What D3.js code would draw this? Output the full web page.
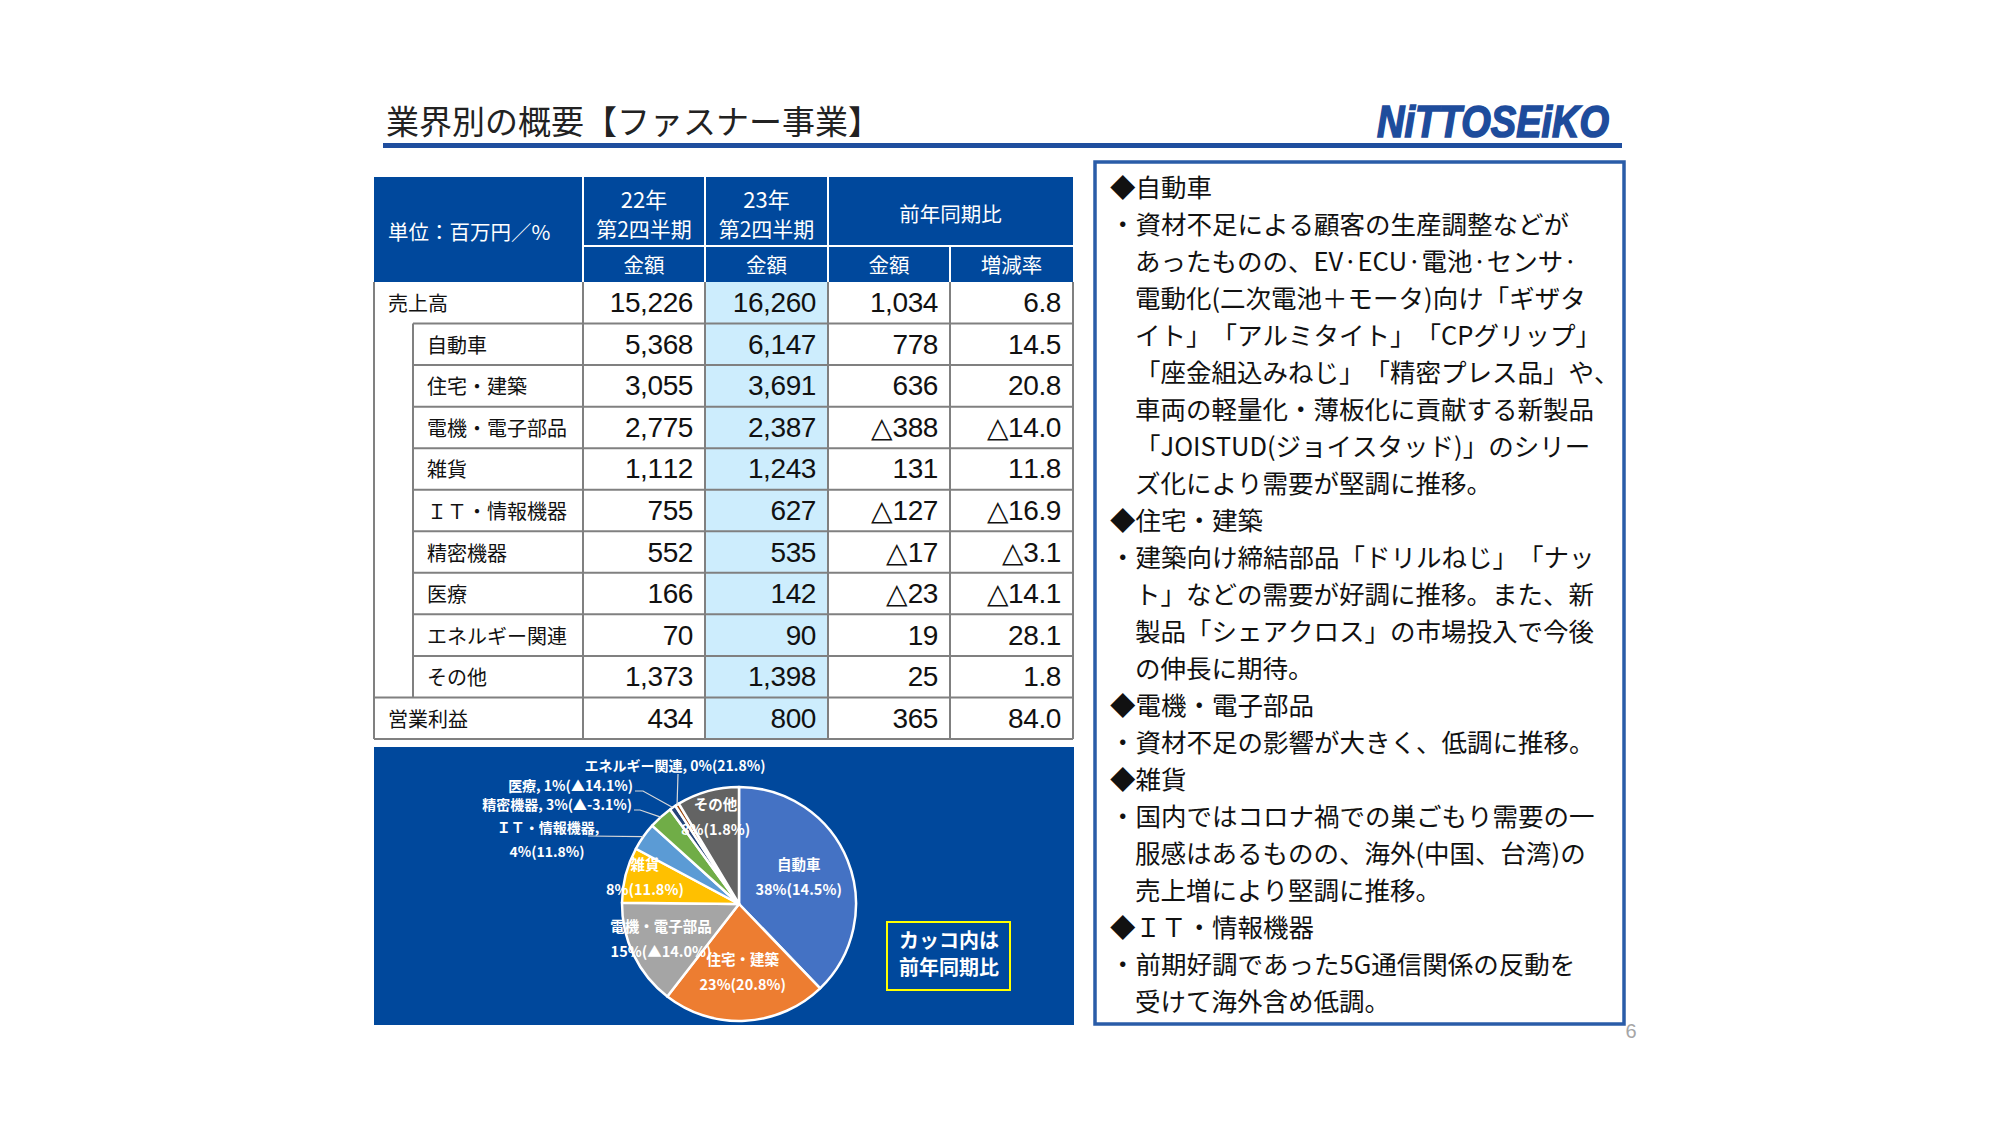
<!DOCTYPE html>
<html><head><meta charset="utf-8">
<script src="https://cdn.jsdelivr.net/npm/d3@7"></script>
<style>body{margin:0;background:#fff}svg{display:block}text{text-spacing-trim:space-all;font-kerning:none}</style>
</head><body>
<script>
// ---------- data ----------
const titleText = "業界別の概要【ファスナー事業】";
const logoText = "NiTTOSEiKO";
const unitLabel = "単位：百万円／%";
const periodLabels = [["22年", "第2四半期"], ["23年", "第2四半期"]];
const compareLabel = "前年同期比";
const subHeaders = ["金額", "金額", "金額", "増減率"];
const categories = ["売上高", "自動車", "住宅・建築", "電機・電子部品", "雑貨", "ＩＴ・情報機器", "精密機器", "医療", "エネルギー関連", "その他", "営業利益"];
const isSubCategory = [false, true, true, true, true, true, true, true, true, true, false];
const sales2022 = [15226, 5368, 3055, 2775, 1112, 755, 552, 166, 70, 1373, 434];
const sales2023 = [16260, 6147, 3691, 2387, 1243, 627, 535, 142, 90, 1398, 800];
const yoyAmount = [1034, 778, 636, -388, 131, -127, -17, -23, 19, 25, 365];
const yoyRate = [6.8, 14.5, 20.8, -14.0, 11.8, -16.9, -3.1, -14.1, 28.1, 1.8, 84.0];

const pieCategories = ["自動車", "住宅・建築", "電機・電子部品", "雑貨", "ＩＴ・情報機器", "精密機器", "医療", "エネルギー関連", "その他"];
const pieValues = [6147, 3691, 2387, 1243, 627, 535, 142, 90, 1398];
const pieShareLabels = ["38%", "23%", "15%", "8%", "4%", "3%", "1%", "0%", "8%"];
const pieYoyLabels = ["14.5%", "20.8%", "▲14.0%", "11.8%", "11.8%", "▲-3.1%", "▲14.1%", "21.8%", "1.8%"];
const pieColors = ["#4472C4", "#ED7D31", "#A5A5A5", "#FFC000", "#5B9BD5", "#70AD47", "#264478", "#9E480E", "#636363"];
const noteLines = ["カッコ内は", "前年同期比"];

const commentLines = [
  "◆自動車",
  "・資材不足による顧客の生産調整などが",
  "あったものの、EV·ECU·電池·センサ·",
  "電動化(二次電池＋モータ)向け「ギザタ",
  "イト」「アルミタイト」「CPグリップ」",
  "「座金組込みねじ」「精密プレス品」や、",
  "車両の軽量化・薄板化に貢献する新製品",
  "「JOISTUD(ジョイスタッド)」のシリー",
  "ズ化により需要が堅調に推移。",
  "◆住宅・建築",
  "・建築向け締結部品「ドリルねじ」「ナッ",
  "ト」などの需要が好調に推移。また、新",
  "製品「シェアクロス」の市場投入で今後",
  "の伸長に期待。",
  "◆電機・電子部品",
  "・資材不足の影響が大きく、低調に推移。",
  "◆雑貨",
  "・国内ではコロナ禍での巣ごもり需要の一",
  "服感はあるものの、海外(中国、台湾)の",
  "売上増により堅調に推移。",
  "◆ＩＴ・情報機器",
  "・前期好調であった5G通信関係の反動を",
  "受けて海外含め低調。"
];
const pageNumber = "6";

// ---------- layout ----------
const W = 2000, H = 1125;
const JP = "'Noto Sans CJK JP','Noto Sans',sans-serif";
const NUM = "'Liberation Sans',Arial,sans-serif";
const BLUE = "#00489C";
const GRID = "#808080";

const svg = d3.select("body").append("svg").attr("width", W).attr("height", H);
svg.append("rect").attr("width", W).attr("height", H).attr("fill", "#fff");

// title
svg.append("text").attr("x", 386).attr("y", 120).attr("dominant-baseline", "central")
  .attr("font-family", JP).attr("font-size", 33).attr("fill", "#222").text(titleText);
svg.append("rect").attr("x", 383).attr("y", 143).attr("width", 1239).attr("height", 5).attr("fill", "#1F4E9E");
svg.append("text").attr("x", 1377).attr("y", 137)
  .attr("font-family", NUM).attr("font-weight", "bold").attr("font-style", "italic")
  .attr("font-size", 44).attr("textLength", 232).attr("lengthAdjust", "spacingAndGlyphs")
  .attr("fill", "#1E4C9C").attr("stroke", "#1E4C9C").attr("stroke-width", 1.6).text(logoText);

// ---------- table ----------
const colEdges = [374, 583, 705, 828, 950, 1073];
const T = { top: 177, mid: 246, hb: 282, bottom: 739, subX: 413 };
const row = d3.scaleBand().domain(d3.range(categories.length)).range([T.hb, T.bottom]);
const tbl = svg.append("g");

tbl.append("rect").attr("x", colEdges[0]).attr("y", T.top).attr("width", colEdges[5] - colEdges[0])
  .attr("height", T.hb - T.top).attr("fill", BLUE);
[1, 2, 3].forEach(i => tbl.append("line").attr("x1", colEdges[i]).attr("x2", colEdges[i])
  .attr("y1", T.top).attr("y2", T.hb).attr("stroke", "#fff").attr("stroke-width", 2));
tbl.append("line").attr("x1", colEdges[4]).attr("x2", colEdges[4]).attr("y1", T.mid).attr("y2", T.hb)
  .attr("stroke", "#fff").attr("stroke-width", 2);
tbl.append("line").attr("x1", colEdges[1]).attr("x2", colEdges[5]).attr("y1", T.mid).attr("y2", T.mid)
  .attr("stroke", "#fff").attr("stroke-width", 2);

const hdr = (x, y, t, anchor, fs) => tbl.append("text").attr("x", x).attr("y", y)
  .attr("text-anchor", anchor || "middle").attr("dominant-baseline", "central")
  .attr("font-family", JP).attr("font-size", fs || 20.5).attr("fill", "#fff").text(t);
hdr(388, 231, unitLabel, "start");
periodLabels.forEach((p, i) => {
  const cx = (colEdges[i + 1] + colEdges[i + 2]) / 2;
  hdr(cx, 198, p[0], "middle", 22); hdr(cx, 228, p[1], "middle", 21);
});
hdr((colEdges[3] + colEdges[5]) / 2, 213, compareLabel);
subHeaders.forEach((s, i) => hdr((colEdges[i + 1] + colEdges[i + 2]) / 2, 264, s));

tbl.append("rect").attr("x", colEdges[0]).attr("y", T.hb).attr("width", colEdges[5] - colEdges[0])
  .attr("height", T.bottom - T.hb).attr("fill", "#fff");
tbl.append("rect").attr("x", colEdges[2]).attr("y", T.hb).attr("width", colEdges[3] - colEdges[2])
  .attr("height", T.bottom - T.hb).attr("fill", "#CDEDFD");

const g = tbl.append("g").attr("stroke", GRID).attr("stroke-width", 2);
d3.range(1, categories.length).forEach(i => {
  g.append("line").attr("x1", isSubCategory[i] ? T.subX : colEdges[0]).attr("x2", colEdges[5])
    .attr("y1", row(i)).attr("y2", row(i));
});
g.append("line").attr("x1", T.subX).attr("x2", T.subX).attr("y1", row(1)).attr("y2", row(categories.length - 1));
colEdges.forEach(x => g.append("line").attr("x1", x).attr("x2", x).attr("y1", T.hb).attr("y2", T.bottom));
g.append("line").attr("x1", colEdges[0]).attr("x2", colEdges[5]).attr("y1", T.bottom).attr("y2", T.bottom);

const fmtInt = d3.format(",");
const fmtAmt = v => v < 0 ? "△" + fmtInt(-v) : fmtInt(v);
const fmtRate = v => v < 0 ? "△" + d3.format(".1f")(-v) : d3.format(".1f")(v);

const rows = tbl.selectAll("g.row").data(categories.map((c, i) => ({
  c, i, vals: [fmtInt(sales2022[i]), fmtInt(sales2023[i]), fmtAmt(yoyAmount[i]), fmtRate(yoyRate[i])]
}))).join("g").attr("class", "row")
  .attr("transform", d => `translate(0,${row(d.i) + row.bandwidth() / 2})`);
rows.append("text").attr("x", d => isSubCategory[d.i] ? 427 : 388).attr("dominant-baseline", "central")
  .attr("font-family", JP).attr("font-size", 20).attr("fill", "#111").text(d => d.c);
rows.selectAll("text.num").data(d => d.vals).join("text").attr("class", "num")
  .attr("x", (v, j) => colEdges[j + 2] - 12).attr("y", 0).attr("text-anchor", "end")
  .attr("dominant-baseline", "central").attr("font-family", NUM).attr("font-size", 28)
  .attr("letter-spacing", -0.4).attr("fill", "#111").text(v => v);

// ---------- pie panel ----------
const P = { x: 374, y: 747, w: 700, h: 278, cx: 739, cy: 904, r: 117 };
svg.append("rect").attr("x", P.x).attr("y", P.y).attr("width", P.w).attr("height", P.h).attr("fill", BLUE);
const pieG = svg.append("g").attr("transform", `translate(${P.cx},${P.cy})`);
const arcs = d3.pie().sort(null).value(d => d)(pieValues);
const arc = d3.arc().innerRadius(0).outerRadius(P.r);
pieG.selectAll("path").data(arcs).join("path").attr("d", arc)
  .attr("fill", (d, i) => pieColors[i]).attr("stroke", "#fff").attr("stroke-width", 2.5)
  .attr("stroke-linejoin", "round");

const lblStyle = (s, fs) => s.attr("font-family", JP).attr("font-weight", "bold").attr("font-size", fs)
  .attr("fill", "#fff").attr("dominant-baseline", "central");
const innerRadius = { 0: 0.55, 1: 0.6, 2: 0.74, 3: 0.83, 8: 0.75 };
Object.keys(innerRadius).forEach(k => {
  const i = +k, rr = P.r * innerRadius[k];
  const c = d3.arc().innerRadius(rr).outerRadius(rr).centroid(arcs[i]);
  lblStyle(pieG.append("text").attr("x", c[0]).attr("y", c[1] - 16).attr("text-anchor", "middle"), 14.5).text(pieCategories[i]);
  lblStyle(pieG.append("text").attr("x", c[0]).attr("y", c[1] + 9).attr("text-anchor", "middle"), 14.5)
    .text(pieShareLabels[i] + "(" + pieYoyLabels[i] + ")");
});
const edge = d3.arc().innerRadius(P.r).outerRadius(P.r);
const outside = [
  { i: 4, lines: [[-191, -77], [-192, -53]], anchor: "middle", lead: [[-151, -68]] },
  { i: 5, lines: [[-107, -100]], anchor: "end", lead: [[-105, -94], [-99, -94]] },
  { i: 6, lines: [[-106, -119]], anchor: "end", lead: [[-104, -113], [-96, -113]] },
  { i: 7, lines: [[-64, -139]], anchor: "middle", lead: [[-61, -130]] }
];
outside.forEach(o => {
  const name = pieCategories[o.i], val = pieShareLabels[o.i] + "(" + pieYoyLabels[o.i] + ")";
  const texts = o.lines.length === 2 ? [name + ",", val] : [name + ", " + val];
  texts.forEach((t, k) => lblStyle(pieG.append("text").attr("x", o.lines[k][0]).attr("y", o.lines[k][1])
    .attr("text-anchor", o.anchor), 14).text(t));
  const pts = o.lead.concat([edge.centroid(arcs[o.i])]);
  pieG.append("path").attr("d", d3.line()(pts)).attr("fill", "none")
    .attr("stroke", "#D9D9D9").attr("stroke-width", 1.2);
});
svg.append("rect").attr("x", 887).attr("y", 922).attr("width", 123).attr("height", 68)
  .attr("fill", "none").attr("stroke", "#FFFF00").attr("stroke-width", 2);
noteLines.forEach((t, k) => svg.append("text").attr("x", 949).attr("y", 939 + k * 27)
  .attr("text-anchor", "middle").attr("dominant-baseline", "central").attr("font-family", JP)
  .attr("font-weight", "bold").attr("font-size", 20).attr("fill", "#fff").text(t));

// ---------- comment box ----------
svg.append("rect").attr("x", 1095).attr("y", 162).attr("width", 529).attr("height", 862)
  .attr("fill", "#fff").attr("stroke", "#2A5CA8").attr("stroke-width", 3.5);
svg.selectAll("text.cm").data(commentLines).join("text").attr("class", "cm")
  .attr("x", d => (d[0] === "◆" || d[0] === "・") ? 1110 : 1135)
  .attr("y", (d, i) => 185.5 + i * 37.0).attr("dominant-baseline", "central")
  .attr("font-family", JP).attr("font-size", 25.5).attr("fill", "#111").text(d => d);

svg.append("text").attr("x", 1631).attr("y", 1031).attr("text-anchor", "middle")
  .attr("dominant-baseline", "central").attr("font-family", NUM).attr("font-size", 20)
  .attr("fill", "#A6A6A6").text(pageNumber);
</script>
</body></html>
